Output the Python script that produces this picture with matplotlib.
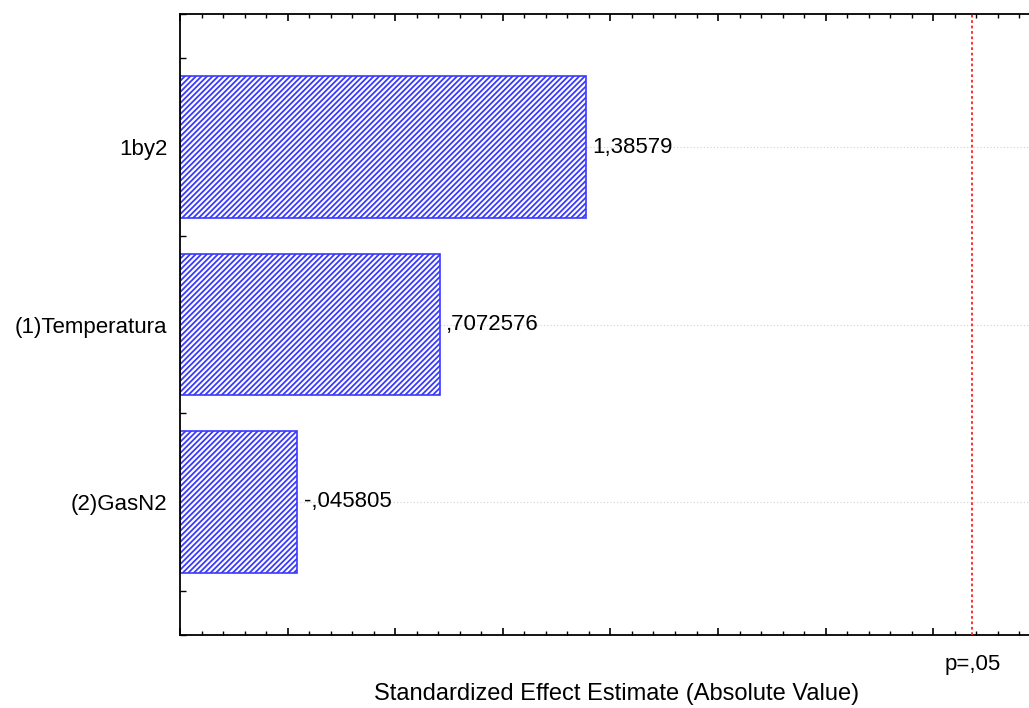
import numpy as np
import matplotlib.pyplot as plt
from matplotlib.ticker import MultipleLocator, NullFormatter

plt.rcParams['font.family'] = ['Liberation Sans', 'DejaVu Sans']
plt.rcParams['hatch.linewidth'] = 1.3

# effects, listed top to bottom
effects = ['1by2', '(1)Temperatura', '(2)GasN2']
t_values = [1.38579, 0.7072576, -0.045805]
t_crit = 3.182446   # t(0.025; df=3)
x_min, x_max = -0.5, 3.445

def stat_fmt(v):
    s = f'{v:.7g}'
    return s.replace('-0.', '-,').replace('0.', ',', 1) if abs(v) < 1 else s.replace('.', ',')

fig = plt.figure(figsize=(10.29, 7.08), dpi=100)
ax = fig.add_axes([180 / 1029, 73 / 708, 849 / 1029, 621 / 708])

ypos = np.arange(len(effects))[::-1]
widths = np.abs(t_values) - x_min

for y in ypos:
    ax.axhline(y, color='#d0d0d0', lw=0.8, ls=(0, (1, 2)), zorder=0)

blue = '#3a3aff'
ax.barh(ypos, widths, left=x_min, height=0.8, color='white',
        edgecolor=blue, hatch='//////', lw=1.2, zorder=2)

for y, v in zip(ypos, t_values):
    ax.text(abs(v) + 0.03, y, stat_fmt(v), va='center', ha='left', fontsize=16)

ax.axvline(t_crit, color='#ff2020', lw=1.3, ls=(0, (1.5, 1.5)), zorder=3)

ax.set_xlim(x_min, x_max)
ax.set_ylim(-0.75, 2.75)
ax.xaxis.set_major_locator(MultipleLocator(0.5))
ax.xaxis.set_minor_locator(MultipleLocator(0.1))
ax.xaxis.set_major_formatter(NullFormatter())
ax.set_yticks(ypos)
ax.set_yticklabels(effects, fontsize=16)
ax.yaxis.set_minor_locator(MultipleLocator(0.25))
ax.tick_params(axis='x', which='both', direction='in', top=True, bottom=True)
ax.tick_params(axis='x', which='major', length=5, width=1.2)
ax.tick_params(axis='x', which='minor', length=3, width=1.0)
ax.tick_params(axis='y', which='both', direction='in', length=4, width=1.0, pad=9)

ax.spines['right'].set_visible(False)
for side in ['left', 'bottom', 'top']:
    ax.spines[side].set_linewidth(1.3)

ax.text(t_crit, -0.03, 'p=,05', transform=ax.get_xaxis_transform(),
        ha='center', va='top', fontsize=16)
ax.set_xlabel('Standardized Effect Estimate (Absolute Value)', fontsize=17)
ax.xaxis.set_label_coords((617 - 180) / 849, -0.078)

fig.savefig('out.png', dpi=100)
